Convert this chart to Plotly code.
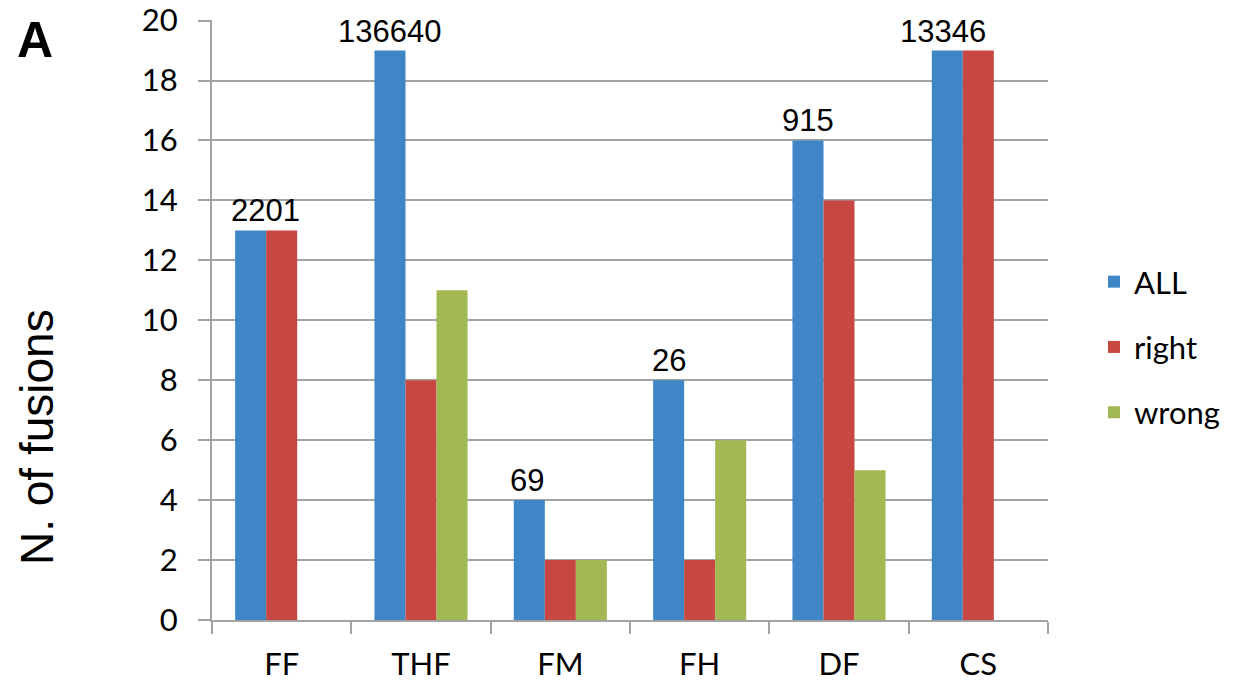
import plotly.graph_objects as go

# Fusion-caller benchmark: number of fusions called per tool
categories = ["FF", "THF", "FM", "FH", "DF", "CS"]
all_fusions = [13, 19, 4, 8, 16, 19]
right_fusions = [13, 8, 2, 2, 14, 19]
wrong_fusions = [0, 11, 2, 6, 5, 0]
total_candidates = ["2201", "136640", "69", "26", "915", "13346"]

y_ticks = list(range(0, 21, 2))

GRID = "#a3a3a3"
TICK_FONT = dict(family="Lato", size=31, color="#000000")
LABEL_FONT = dict(family="Liberation Sans, Arial", size=31, color="#000000")

W, H = 1236, 688
L, R, T, B = 212, 188, 20, 68


def px_to_paper(x_px, y_px):
    """Convert a page pixel position to paper coordinates."""
    return (x_px - L) / (W - L - R), (H - B - y_px) / (H - T - B)


series = [
    ("ALL", all_fusions, "#3e86c6"),
    ("right", right_fusions, "#c84742"),
    ("wrong", wrong_fusions, "#a1b853"),
]

fig = go.Figure()
for name, values, color in series:
    fig.add_trace(go.Bar(
        name=name,
        x=categories,
        y=values,
        marker=dict(color=color, line=dict(width=0)),
        legendgroup=name,
    ))

# candidate counts written above the ALL bar of each group
bargap = 0.332
bar_w = (1 - bargap) / 3
label_nudge = [15, 0, -2, 0, 0, -4]
for i, (txt, val) in enumerate(zip(total_candidates, all_fusions)):
    fig.add_annotation(
        x=i - bar_w, y=val, xref="x", yref="y",
        text=txt, showarrow=False, yanchor="bottom",
        xshift=label_nudge[i], yshift=0,
        font=LABEL_FONT,
    )

# panel letter
ax, ay = px_to_paper(35, 40)
fig.add_annotation(
    x=ax, y=ay, xref="paper", yref="paper", text="<b>A</b>", showarrow=False,
    xanchor="center", yanchor="middle",
    font=dict(family="Liberation Sans, Arial", size=50, color="#000000"),
)

# rotated axis title sits low, beside the lower half of the axis
tx, ty = px_to_paper(37, 437)
fig.add_annotation(
    x=tx, y=ty, xref="paper", yref="paper", text="N. of fusions",
    textangle=-90, showarrow=False, xanchor="center", yanchor="middle",
    font=dict(family="Liberation Sans, Arial", size=46, color="#000000"),
)

fig.update_layout(
    width=W, height=H,
    margin=dict(l=L, r=R, t=T, b=B, autoexpand=False),
    paper_bgcolor="#ffffff", plot_bgcolor="#ffffff",
    barmode="group", bargap=bargap, bargroupgap=0,
    showlegend=True,
    legend=dict(
        x=1.055, xanchor="left", y=0.455, yanchor="middle",
        font=TICK_FONT, tracegroupgap=22, traceorder="grouped",
        bgcolor="rgba(0,0,0,0)",
    ),
    xaxis=dict(
        type="category", tickson="boundaries", ticks="outside", ticklen=12,
        tickcolor=GRID, tickwidth=2, showline=True, linecolor=GRID, linewidth=2,
        showgrid=False, tickfont=TICK_FONT, ticklabelstandoff=16,
        automargin=False,
    ),
    yaxis=dict(
        range=[0, 20.02], tickvals=y_ticks, ticks="outside", ticklen=12,
        tickcolor=GRID, tickwidth=2, showline=True, linecolor=GRID, linewidth=2,
        showgrid=True, gridcolor=GRID, gridwidth=2, zeroline=False,
        tickfont=TICK_FONT, ticklabelstandoff=14, automargin=False,
    ),
)

fig.write_html("out.html")
